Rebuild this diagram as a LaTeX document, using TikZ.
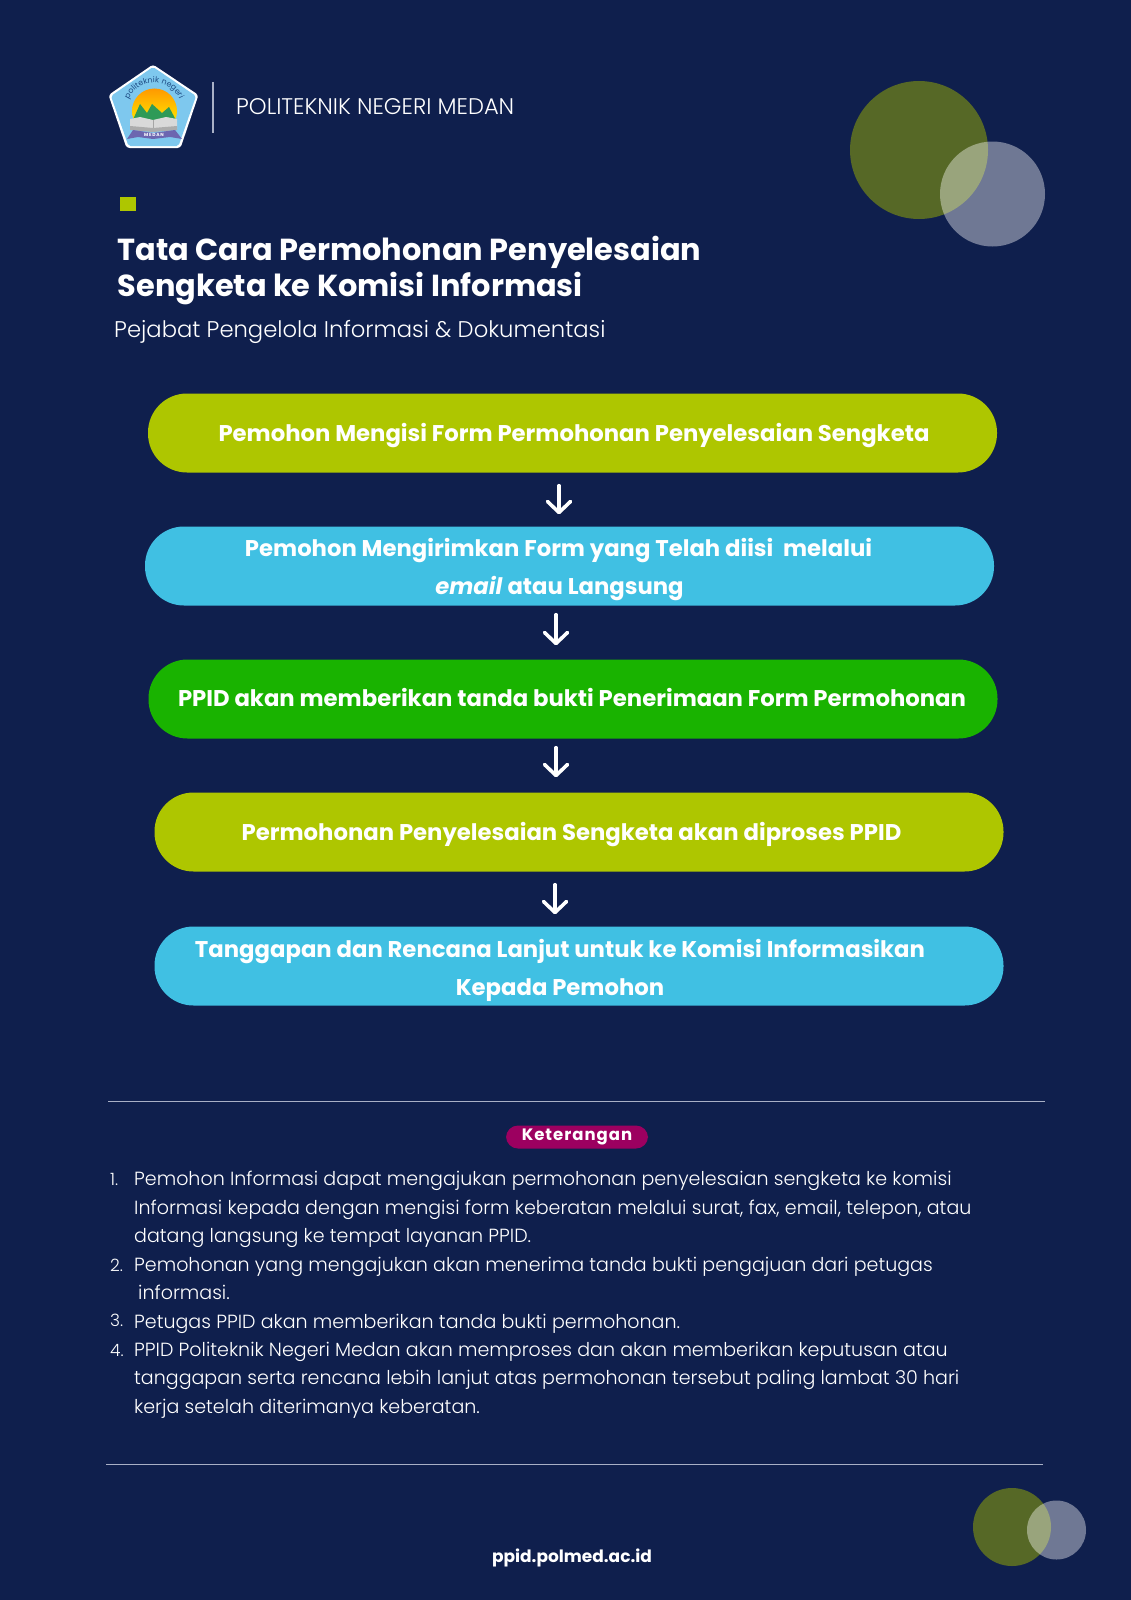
\documentclass[tikz,border=0pt]{standalone}
\usepackage{fontspec}
\usetikzlibrary{arrows.meta,decorations.text,calc}
\setmainfont{Poppins}
\newfontfamily\popl{Poppins Light}
\definecolor{bg}{HTML}{0F1F4D}
\definecolor{lime}{HTML}{AEC600}
\definecolor{sky}{HTML}{40C0E3}
\definecolor{grn}{HTML}{19B300}
\definecolor{olive}{HTML}{566826}
\definecolor{pill}{HTML}{9C0060}
\definecolor{rulec}{HTML}{A9B0C6}
\definecolor{logoblue}{HTML}{7EC8EE}
\definecolor{logotext}{HTML}{1F4E86}
\definecolor{logogreen}{HTML}{2E9A57}
\definecolor{logoribbon}{HTML}{6C66B0}
\newcommand{\fs}[1]{\fontsize{#1}{#1}\selectfont}
\tikzset{
 x=1pt,y=-1pt,
 flowbox/.style={rounded corners=39pt,minimum height=79pt,minimum width=849pt,inner sep=0pt},
 boxtext/.style={text=white,font=\fs{22.75}\bfseries,inner sep=0pt,anchor=center},
 flow/.style={draw=white,line width=3.6pt,line cap=round,-{Straight Barb[length=11pt,width=23pt,line width=3.6pt,round]}},
 lst/.style={text=white,font=\popl\fs{19.05},inner sep=0pt,anchor=base west},
 num/.style={text=white,font=\popl\fs{17},inner sep=0pt,anchor=base west},
 softc/.style={fill=white,fill opacity=0.4},
 hr/.style={draw=rulec,line width=1pt}
}
\begin{document}
\begin{tikzpicture}
\useasboundingbox (0,0) rectangle (1131,1600);
\fill[bg] (0,0) rectangle (1131,1600);
% circles
\fill[olive] (919,150) circle (69);
\fill[softc] (992.5,194) circle (52.5);
\fill[olive] (1012,1527) circle (39);
\fill[softc] (1056.5,1530) circle (29.5);
% logo
\fill[white,rounded corners=3pt] (153,64.5) -- (198.5,95) -- (180.5,148) -- (126.5,148) -- (108.5,95) -- cycle;
\fill[logoblue,rounded corners=2pt] (153,67) -- (196,96) -- (178.5,146) -- (128.5,146) -- (111,96) -- cycle;
\shade[top color=orange!80!yellow,bottom color=yellow] (154.5,111) circle (22.5);
\fill[logoblue] (130,122) rectangle (179,136);
\fill[logogreen] (132,122) -- (140,104) -- (147,113) -- (152,104) -- (162,113) -- (169,107) -- (177,122) -- cycle;
\fill[gray!30] (130,119) -- (140,117) -- (153,120) -- (166,117) -- (177,119) -- (177,129) -- (153,131) -- (130,129) -- cycle;
\draw[gray!70,line width=0.8pt] (153,120) -- (153,130);
\fill[gray!65] (130,126) -- (153,128) -- (177,126) -- (177,130) -- (153,132) -- (130,130) -- cycle;
\fill[logoribbon] (127,139) -- (133,130) -- (153,133) -- (175,130) -- (182,139) -- (170,137) -- (153,139) -- (138,137) -- cycle;
\node[text=white,font=\fs{4.5}\bfseries,inner sep=0pt] (medan) at (154,134.5) {M\,E\,D\,A\,N};
\path[decorate,decoration={text along path,text align=center,text={|\fs{7.9}\color{logotext}|politeknik\ negeri}}] (126.5,110) arc (180:360:27.5);
% header
\draw[draw=rulec,line width=1.6pt] (213,82) -- (213,133);
\node[text=white,font=\popl\fs{22.6},inner sep=0pt,anchor=west] (org) at (236,107) {POLITEKNIK NEGERI MEDAN};
\fill[lime] (119.5,197) rectangle (136,211);
\node[text=white,font=\fs{30.4}\bfseries,inner sep=0pt,anchor=base west] (t1) at (117.5,260) {Tata Cara Permohonan Penyelesaian};
\node[text=white,font=\fs{30.4}\bfseries,inner sep=0pt,anchor=base west] (t2) at (117.5,296) {Sengketa ke Komisi Informasi};
\node[text=white,font=\popl\fs{22.7},inner sep=0pt,anchor=base west] (sub) at (114,337) {Pejabat Pengelola Informasi \& Dokumentasi};
% flow boxes
\node[flowbox,fill=lime] (b1) at (572.5,433) {};
\node[flowbox,fill=sky] (b2) at (569.5,566) {};
\node[flowbox,fill=grn] (b3) at (573,699) {};
\node[flowbox,fill=lime] (b4) at (579,832) {};
\node[flowbox,fill=sky] (b5) at (579,966) {};
\node[boxtext] (x1) at (574,436) {Pemohon Mengisi Form Permohonan Penyelesaian Sengketa};
\node[boxtext] (x2a) at (558.5,551) {Pemohon Mengirimkan Form yang Telah diisi\ \ melalui};
\node[boxtext] (x2b) at (559.5,588.5) {\textit{email} atau Langsung};
\node[boxtext] (x3) at (572,697.5) {PPID akan memberikan tanda bukti Penerimaan Form Permohonan};
\node[boxtext] (x4) at (571.5,835) {Permohonan Penyelesaian Sengketa akan diproses PPID};
\node[boxtext] (x5a) at (560,952) {Tanggapan dan Rencana Lanjut untuk ke Komisi Informasikan};
\node[boxtext] (x5b) at (560,990) {Kepada Pemohon};
% arrows
\coordinate (ax1) at (559,0);
\coordinate (ax2) at (556,0);
\coordinate (ax3) at (555,0);
\draw[flow,shorten <=13pt,shorten >=12pt] (b1.south -| ax1) -- (b2.north -| ax1);
\draw[flow,shorten <=9pt,shorten >=14pt] (b2.south -| ax2) -- (b3.north -| ax2);
\draw[flow,shorten <=9pt,shorten >=15pt] (b3.south -| ax2) -- (b4.north -| ax2);
\draw[flow,shorten <=13pt,shorten >=12pt] (b4.south -| ax3) -- (b5.north -| ax3);
% notes
\draw[hr] (108,1101.5) -- (1045,1101.5);
\draw[hr] (106,1464) -- (1043,1464);
\node[fill=pill,rounded corners=12pt,minimum width=142pt,minimum height=23pt,inner sep=0pt,text=white,font=\fs{16.5}\bfseries] (ket) at (577,1137) {\addfontfeature{LetterSpace=6}Keterangan};
\node[num] (n1) at (110,1185) {1.};
\node[lst] (l1) at (134,1185) {Pemohon Informasi dapat mengajukan permohonan penyelesaian sengketa ke komisi};
\node[lst] (l2) at (134,1214) {Informasi kepada dengan mengisi form keberatan melalui surat, fax, email, telepon, atau};
\node[lst] (l3) at (134,1242) {datang langsung ke tempat layanan PPID.};
\node[num] (n2) at (110,1271) {2.};
\node[lst] (l4) at (134,1271) {Pemohonan yang mengajukan akan menerima tanda bukti pengajuan dari petugas};
\node[lst] (l5) at (138,1299) {informasi.};
\node[num] (n3) at (110,1326) {3.};
\node[lst] (l6) at (134,1328) {Petugas PPID akan memberikan tanda bukti permohonan.};
\node[num] (n4) at (110,1356) {4.};
\node[lst] (l7) at (134,1356) {PPID Politeknik Negeri Medan akan memproses dan akan memberikan keputusan atau};
\node[lst] (l8) at (134,1384) {tanggapan serta rencana lebih lanjut atas permohonan tersebut paling lambat 30 hari};
\node[lst] (l9) at (134,1413) {kerja setelah diterimanya keberatan.};
\node[text=white,font=\fs{17}\bfseries,inner sep=0pt] (web) at (572,1558) {ppid.polmed.ac.id};
\end{tikzpicture}
\end{document}
